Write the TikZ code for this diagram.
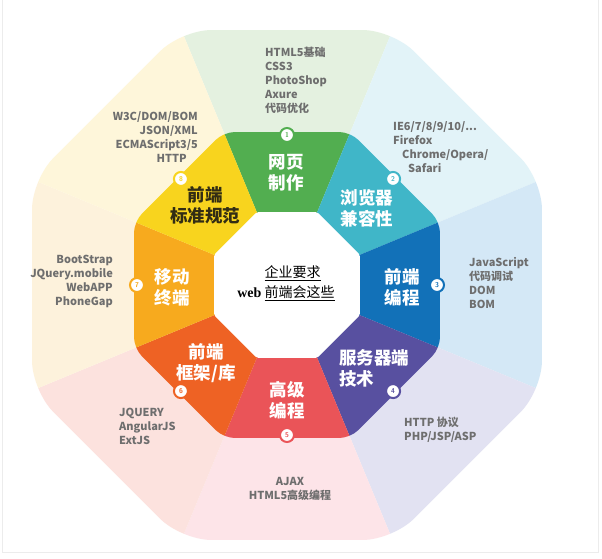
\documentclass[tikz,border=0pt]{standalone}
\usepackage{fontspec}
\setmainfont{Liberation Sans}
\newfontfamily\cjk{Noto Sans CJK SC}
\newfontfamily\serifw{Liberation Serif}
\usetikzlibrary{calc}
\definecolor{cA}{RGB}{82,174,80}
\definecolor{cB}{RGB}{64,182,200}
\definecolor{cC}{RGB}{18,113,184}
\definecolor{cD}{RGB}{88,80,160}
\definecolor{cE}{RGB}{234,84,88}
\definecolor{cF}{RGB}{238,98,36}
\definecolor{cG}{RGB}{247,170,30}
\definecolor{cH}{RGB}{248,212,30}
\definecolor{bA}{RGB}{228,241,224}
\definecolor{bB}{RGB}{226,243,248}
\definecolor{bC}{RGB}{212,232,246}
\definecolor{bD}{RGB}{226,226,242}
\definecolor{bE}{RGB}{253,228,232}
\definecolor{bF}{RGB}{252,226,222}
\definecolor{bG}{RGB}{253,242,220}
\definecolor{bH}{RGB}{254,246,218}
\definecolor{itemgray}{RGB}{110,110,110}
\definecolor{darktext}{RGB}{50,45,20}
\definecolor{framegray}{RGB}{236,236,236}
\tikzset{
  item/.style={font=\cjk\bfseries\fontsize{11}{14}\selectfont, text=itemgray, inner sep=0pt},
  seglabel/.style={font=\cjk\bfseries\fontsize{17.5}{21}\selectfont, text=white, inner sep=0pt, align=center},
  numcirc/.style={circle, draw=#1, line width=2pt, fill=white, minimum size=14pt, inner sep=0pt,
    text=#1, font=\sffamily\bfseries\fontsize{7}{7}\selectfont},
  centertext/.style={font=\cjk\fontsize{14}{16}\selectfont, text=black, inner sep=0pt}
}
\begin{document}
\begin{tikzpicture}[x=1pt,y=-1pt]
\useasboundingbox (0,0) rectangle (602,558);
\fill[white] (0,0) rectangle (602,558);
\draw[framegray] (2.5,-2) -- (2.5,552) -- (598,552) -- (598,-2);
\coordinate (C) at (287,285);
% background octagon
\begin{scope}
\clip[rounded corners=30] ($(C)+(-112.5:276)$) -- ($(C)+(-67.5:276)$) -- ($(C)+(-22.5:276)$) -- ($(C)+(22.5:276)$)
  -- ($(C)+(67.5:276)$) -- ($(C)+(112.5:276)$) -- ($(C)+(157.5:276)$) -- ($(C)+(202.5:276)$) -- cycle;
\foreach \a/\col in {-90/bA,-45/bB,0/bC,45/bD,90/bE,135/bF,180/bG,225/bH}
  \fill[\col] (C) -- ($(C)+({\a-22.5}:420)$) -- ($(C)+({\a+22.5}:420)$) -- cycle;
\end{scope}
% coloured ring
\begin{scope}
\clip[rounded corners=11] ($(C)+(-112.5:165.6)$) -- ($(C)+(-67.5:165.6)$) -- ($(C)+(-22.5:165.6)$) -- ($(C)+(22.5:165.6)$)
  -- ($(C)+(67.5:165.6)$) -- ($(C)+(112.5:165.6)$) -- ($(C)+(157.5:165.6)$) -- ($(C)+(202.5:165.6)$) -- cycle;
\foreach \a/\col in {-90/cA,-45/cB,0/cC,45/cD,90/cE,135/cF,180/cG,225/cH}
  \fill[\col] (C) -- ($(C)+({\a-22.5}:250)$) -- ($(C)+({\a+22.5}:250)$) -- cycle;
\end{scope}
% inner white octagon
\fill[white, rounded corners=2] ($(C)+(-112.5:79)$) -- ($(C)+(-67.5:79)$) -- ($(C)+(-22.5:79)$) -- ($(C)+(22.5:79)$)
  -- ($(C)+(67.5:79)$) -- ($(C)+(112.5:79)$) -- ($(C)+(157.5:79)$) -- ($(C)+(202.5:79)$) -- cycle;
% centre text
\node[centertext] (t1) at (292.5,273) {\underline{企业要求}};
\node[centertext] (t2) at (286,293) {{\serifw\bfseries web} \underline{前端会这些}};
% segment labels
\node[seglabel] (s1) at (286,173) {网页\\制作};
\node[seglabel] (s2) at (367,208) {浏览器\\兼容性};
\node[seglabel] (s3) at (402,287) {前端\\编程};
\node[seglabel, align=left, anchor=west] (s4) at (339,368) {服务器端\\技术};
\node[seglabel] (s5) at (287,400) {高级\\编程};
\node[seglabel] (s6) at (206,363) {前端\\框架/库};
\node[seglabel] (s7) at (172,287) {移动\\终端};
\node[seglabel, text=darktext] (s8) at (205,205) {前端\\标准规范};
% number circles
\node[numcirc=cA] (n1) at ($(C)+(-90:150)$) {1};
\node[numcirc=cB] (n2) at ($(C)+(-45:150)$) {2};
\node[numcirc=cC] (n3) at ($(C)+(0:150)$) {3};
\node[numcirc=cD] (n4) at ($(C)+(45:150)$) {4};
\node[numcirc=cE] (n5) at ($(C)+(90:150)$) {5};
\node[numcirc=cF] (n6) at ($(C)+(135:150)$) {6};
\node[numcirc=cG] (n7) at ($(C)+(180:150)$) {7};
\node[numcirc=cH] (n8) at ($(C)+(225:150)$) {8};
% item lists
\node[item, align=left, anchor=north west] (i1) at (265,47) {HTML5基础\\CSS3\\PhotoShop\\Axure\\代码优化};
\node[item, align=left, anchor=north west] (i2) at (393,121) {IE6/7/8/9/10/...\\Firefox\\\hspace*{9pt}Chrome/Opera/\\\hspace*{15pt}Safari};
\node[item, align=left, anchor=north west] (i3) at (469,257) {JavaScript\\代码调试\\DOM\\BOM};
\node[item, align=left, anchor=north west] (i4) at (404,417) {HTTP 协议\\PHP/JSP/ASP};
\node[item, align=center, anchor=north] (i5) at (290,477) {AJAX\\HTML5高级编程};
\node[item, align=left, anchor=north west] (i6) at (119,408) {JQUERY\\AngularJS\\ExtJS};
\node[item, align=right, anchor=north east] (i7) at (113,255) {BootStrap\\JQuery.mobile\\WebAPP\\PhoneGap};
\node[item, align=right, anchor=north east] (i8) at (198,111) {W3C/DOM/BOM\\JSON/XML\hspace*{11pt}\\ECMAScript3/5\hspace*{11pt}\\HTTP\hspace*{11pt}};
\end{tikzpicture}
\end{document}
